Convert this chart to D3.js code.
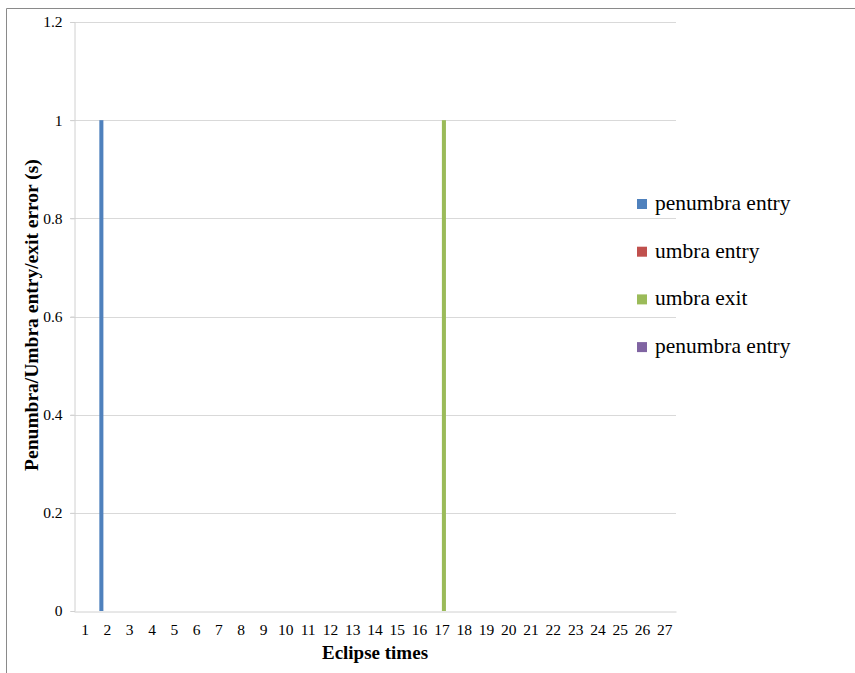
<!DOCTYPE html>
<html>
<head>
<meta charset="utf-8">
<script src="https://cdn.jsdelivr.net/npm/d3@7"></script>
<style>
  html, body { margin: 0; padding: 0; background: #fff; }
  svg { display: block; }
  text { font-family: "Liberation Serif", "DejaVu Serif", serif; fill: #000; }
</style>
</head>
<body>
<svg id="chart" width="855" height="673"></svg>
<script>
// Eclipse event timing errors (seconds), one value per eclipse
const categories = d3.range(1, 28).map(String);
const seriesNames = ["penumbra entry", "umbra entry", "umbra exit", "penumbra entry"];
const seriesColors = ["#4f81bd", "#c0504d", "#9bbb59", "#8064a2"];
const penumbraEntry = [0,1,0,0,0,0,0,0,0,0,0,0,0,0,0,0,0,0,0,0,0,0,0,0,0,0,0];
const umbraEntry    = [0,0,0,0,0,0,0,0,0,0,0,0,0,0,0,0,0,0,0,0,0,0,0,0,0,0,0];
const umbraExit     = [0,0,0,0,0,0,0,0,0,0,0,0,0,0,0,0,1,0,0,0,0,0,0,0,0,0,0];
const penumbraExit  = [0,0,0,0,0,0,0,0,0,0,0,0,0,0,0,0,0,0,0,0,0,0,0,0,0,0,0];
const yTicks = [0, 0.2, 0.4, 0.6, 0.8, 1, 1.2];

const seriesValues = [penumbraEntry, umbraEntry, umbraExit, penumbraExit];

const svg = d3.select("#chart");
const plot = { left: 74, right: 676, top: 22, bottom: 611 };

// outer chart frame
svg.append("path")
  .attr("d", "M6.5,673 V8.5 H855")
  .attr("fill", "none")
  .attr("stroke", "#8a8a8a")
  .attr("stroke-width", 1);

const x0 = d3.scaleBand().domain(categories).range([plot.left, plot.right]).paddingInner(0).paddingOuter(0);
// gap width 150% of a bar: 4 bars + 1.5 bar-widths gap per band
const barW = x0.bandwidth() / (seriesValues.length + 1.5);
const y = d3.scaleLinear().domain([0, 1.2]).range([plot.bottom, plot.top]);

// gridlines
svg.append("g").selectAll("line")
  .data(yTicks.filter(t => t > 0))
  .join("line")
  .attr("x1", plot.left - 4).attr("x2", plot.right)
  .attr("y1", d => Math.round(y(d)) + 0.5).attr("y2", d => Math.round(y(d)) + 0.5)
  .attr("stroke", "#d9d9d9").attr("stroke-width", 1);

// y axis
const yAxis = svg.append("g")
  .attr("transform", `translate(${plot.left + 0.5},0)`)
  .call(d3.axisLeft(y).tickValues(yTicks).tickSize(4).tickPadding(8).tickFormat(d3.format("~g")));
yAxis.attr("font-family", null);
yAxis.select(".domain").attr("stroke", "#d0d0d0");
yAxis.selectAll(".tick line").attr("stroke", "#d0d0d0");
yAxis.selectAll(".tick text").attr("font-size", 15.5).attr("fill", "#333");

// bars
seriesValues.forEach((vals, si) => {
  svg.append("g").selectAll("rect")
    .data(vals.map((v, i) => ({ cat: categories[i], v })))
    .join("rect")
    .attr("x", d => x0(d.cat) + barW * 0.75 + si * barW)
    .attr("width", barW)
    .attr("y", d => y(d.v))
    .attr("height", d => y(0) - y(d.v))
    .attr("fill", seriesColors[si]);
});

// x axis
const xAxis = svg.append("g")
  .attr("transform", `translate(0,${plot.bottom + 0.5})`)
  .call(d3.axisBottom(x0).tickSize(0).tickPadding(12));
xAxis.attr("font-family", null);
xAxis.select(".domain").attr("stroke", "#d0d0d0");
xAxis.selectAll(".tick text").attr("font-size", 15.5).attr("fill", "#333");

// axis titles
svg.append("text")
  .attr("x", (plot.left + plot.right) / 2).attr("y", 659)
  .attr("text-anchor", "middle")
  .attr("font-size", 19).attr("font-weight", "bold")
  .text("Eclipse times");

svg.append("text")
  .attr("transform", `translate(38,315) rotate(-90)`)
  .attr("text-anchor", "middle")
  .attr("font-size", 19.5).attr("font-weight", "bold")
  .text("Penumbra/Umbra entry/exit error (s)");

// legend
const legend = svg.append("g").selectAll("g")
  .data(seriesNames)
  .join("g")
  .attr("transform", (d, i) => `translate(637,${204 + i * 47.7})`);
legend.append("rect")
  .attr("x", 0).attr("y", -5).attr("width", 10).attr("height", 10)
  .attr("fill", (d, i) => seriesColors[i]);
legend.append("text")
  .attr("x", 18).attr("y", 6)
  .attr("font-size", 21.5)
  .text(d => d);
</script>
</body>
</html>
